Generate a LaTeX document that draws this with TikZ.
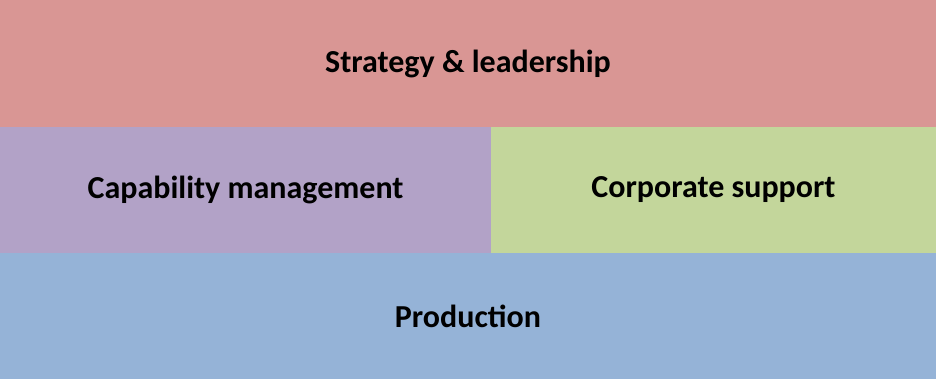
\documentclass[tikz,border=0pt]{standalone}
\usepackage{fontspec}
\setmainfont{Carlito}
\usetikzlibrary{positioning}
\definecolor{stratred}{HTML}{D99694}
\definecolor{cappurple}{HTML}{B2A2C7}
\definecolor{corpgreen}{HTML}{C3D69B}
\definecolor{prodblue}{HTML}{95B3D7}
\tikzset{band/.style={rectangle,inner sep=0pt,outer sep=0pt,draw=none,
    minimum height=63pt,font=\fontsize{16}{19}\selectfont\bfseries}}

\begin{document}
\begin{tikzpicture}[node distance=0pt]
    \node [band,fill=stratred,minimum width=468pt,minimum height=63.5pt,anchor=north west] (strat) at (0,0) {Strategy \& leadership};
    \node [band,fill=cappurple,minimum width=245.5pt,below right=0pt and 0pt of strat.south west] (cap) {Capability management};
    \node [band,fill=corpgreen,minimum width=222.5pt,right=of cap] (corp) {Corporate support};
    \node [band,fill=prodblue,minimum width=468pt,below right=0pt and 0pt of cap.south west] (prod) {Production};
\end{tikzpicture}
\end{document}
